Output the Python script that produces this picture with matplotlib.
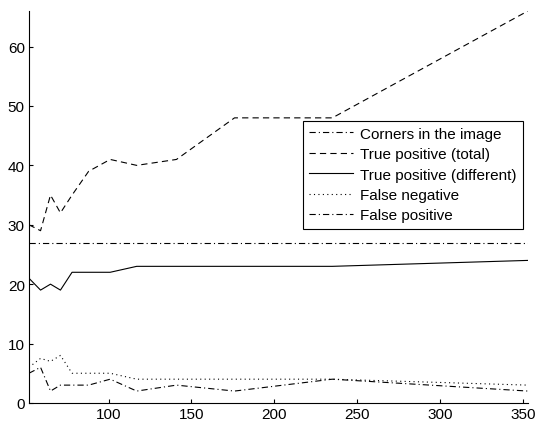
import matplotlib
matplotlib.use("Agg")
import matplotlib.pyplot as plt

plt.rcParams['font.family'] = ['Liberation Sans', 'DejaVu Sans']
plt.rcParams['lines.scale_dashes'] = False

# sample sizes (x) and counts
x = [52, 59, 65, 71, 78, 88, 101, 117, 141, 176, 235, 353]
corners = [27] * len(x)
tp_total = [30, 29, 35, 32, 35, 39, 41, 40, 41, 48, 48, 66]
tp_diff = [21, 19, 20, 19, 22, 22, 22, 23, 23, 23, 23, 24]
false_neg = [6, 7.5, 7, 8, 5, 5, 5, 4, 4, 4, 4, 3]
false_pos = [5, 6, 2, 3, 3, 3, 4, 2, 3, 2, 4, 2]

labels = ['Corners in the image', 'True positive (total)',
          'True positive (different)', 'False negative', 'False positive']

fig = plt.figure(figsize=(5.36, 4.27), dpi=100)
ax = fig.add_axes([0.054, 0.054, 0.931, 0.918])

lw = 0.8
ax.plot(x, corners, color='k', lw=lw, dashes=(4.5, 2.2, 0.8, 2.2), label=labels[0])
ax.plot(x, tp_total, color='k', lw=lw, dashes=(4.5, 3), label=labels[1])
ax.plot(x, tp_diff, color='k', lw=lw, label=labels[2])
ax.plot(x, false_neg, color='k', lw=lw, dashes=(0.8, 2.4), label=labels[3])
ax.plot(x, false_pos, color='k', lw=lw, dashes=(4.5, 2.2, 0.8, 2.2), label=labels[4])

ax.set_xlim(52, 353)
ax.set_ylim(0, 66)
ax.set_xticks([100, 150, 200, 250, 300, 350])
ax.set_yticks([0, 10, 20, 30, 40, 50, 60])
ax.spines['top'].set_visible(False)
ax.spines['right'].set_visible(False)
ax.tick_params(direction='in', length=3, width=0.8, labelsize=11, pad=3)

leg = ax.legend(loc='upper left', bbox_to_anchor=(0.549, 0.72), fontsize=11,
                handlelength=2.85, fancybox=False, framealpha=1,
                edgecolor='k', borderaxespad=0, labelspacing=0.42,
                handletextpad=0.5, borderpad=0.4)
leg.get_frame().set_linewidth(0.8)

fig.savefig('out.png', dpi=100)
